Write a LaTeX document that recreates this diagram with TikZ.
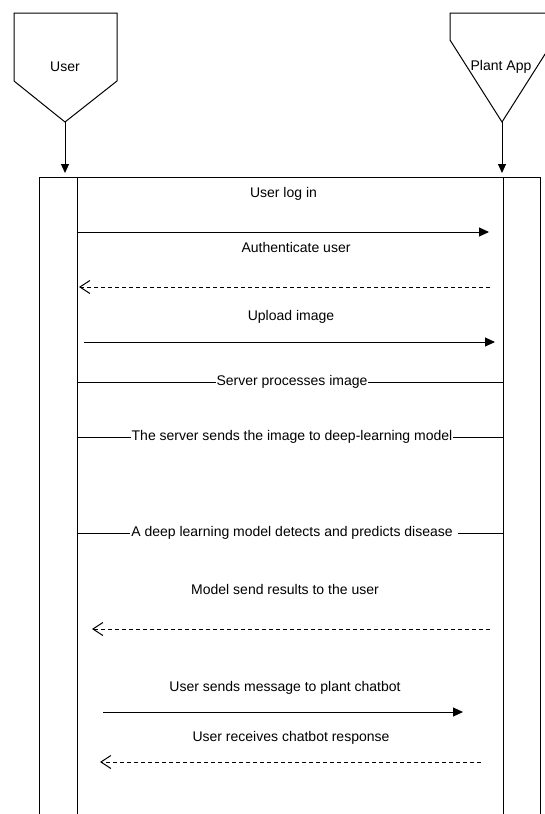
\documentclass[tikz,border=0pt]{standalone}
\usepackage{fontspec}
\setmainfont{Liberation Sans}
\usetikzlibrary{arrows.meta}
\tikzset{
  msg/.style={-{Triangle[length=10pt,width=9pt]}},
  reply/.style={dash pattern=on 4pt off 3pt,-{Straight Barb[length=10pt,width=13pt]}},
  lbl/.style={font=\fontsize{14}{16}\selectfont, inner sep=0.5pt},
}
\begin{document}
\begin{tikzpicture}[x=1pt,y=-1pt,line width=1pt,line join=miter]
	\useasboundingbox (0,0) rectangle (544,814);
	% actors
	\draw (14,13) -- (117,13) -- (117,81) -- (65,122) -- (14,81) -- cycle;
	\node[lbl] (user) at (65,67) {User};
	\draw (450,13) -- (554,13) -- (554,40) -- (502,122) -- (450,40) -- cycle;
	\node[lbl] (app) at (501,67) {Plant App};
	\coordinate (userfoot) at (65,122);
	\coordinate (appfoot) at (502,122);
	\coordinate (usertop) at (65,173);
	\coordinate (apptop) at (502,173);
	\draw[-{Triangle[length=9pt,width=8pt]}] (userfoot) -- (usertop);
	\draw[-{Triangle[length=9pt,width=8pt]}] (appfoot) -- (apptop);
	% frame and lifelines
	\draw (39,177) rectangle (540,830);
	\coordinate (ulife) at (77,177);
	\coordinate (ulifeend) at (77,830);
	\coordinate (alife) at (503,177);
	\coordinate (alifeend) at (503,830);
	\draw (ulife) -- (ulifeend);
	\draw (alife) -- (alifeend);
	% log in
	\node[lbl,anchor=base] (login) at (283.5,197) {User log in};
	\coordinate (m1a) at (78,232);
	\coordinate (m1b) at (489,232);
	\draw[msg] (m1a) -- (m1b);
	\node[lbl,anchor=base] (auth) at (296,252.5) {Authenticate user};
	\coordinate (m2a) at (490,287);
	\coordinate (m2b) at (79,287);
	\draw[reply] (m2a) -- (m2b);
	% upload
	\node[lbl,anchor=base] (upload) at (291,320) {Upload image};
	\coordinate (m3a) at (84,342);
	\coordinate (m3b) at (495,342);
	\draw[msg] (m3a) -- (m3b);
	% processing steps
	\node[lbl] (proc) at (292,382) {Server processes image};
	\coordinate (m4a) at (77,382);
	\coordinate (m4b) at (503,382);
	\draw (m4a) -- (proc);
	\draw (proc) -- (m4b);
	\node[lbl] (tomodel) at (292,437) {The server sends the image to deep-learning model};
	\coordinate (m5a) at (77,437);
	\coordinate (m5b) at (503,437);
	\draw (m5a) -- (tomodel);
	\draw (tomodel) -- (m5b);
	\node[lbl] (detect) at (294,533) {A deep learning model detects and predicts disease\kern4pt};
	\coordinate (m6a) at (77,533);
	\coordinate (m6b) at (503,533);
	\draw (m6a) -- (detect);
	\draw (detect) -- (m6b);
	% results
	\node[lbl,anchor=base] (results) at (285,594) {Model send results to the user};
	\coordinate (m7a) at (490,629);
	\coordinate (m7b) at (92,629);
	\draw[reply] (m7a) -- (m7b);
	% chatbot
	\node[lbl,anchor=base] (chat) at (285,691) {User sends message to plant chatbot};
	\coordinate (m8a) at (103,712);
	\coordinate (m8b) at (463,712);
	\draw[msg] (m8a) -- (m8b);
	\node[lbl,anchor=base] (answer) at (291,741) {User receives chatbot response};
	\coordinate (m9a) at (481,762);
	\coordinate (m9b) at (100,762);
	\draw[reply] (m9a) -- (m9b);
\end{tikzpicture}
\end{document}
